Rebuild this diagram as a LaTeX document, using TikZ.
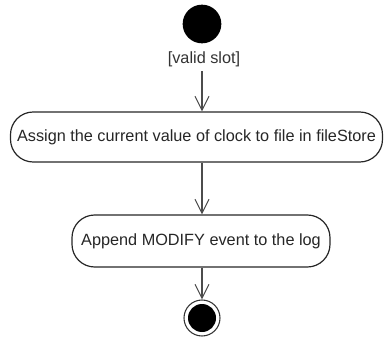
\documentclass[tikz,border=0pt]{standalone}
\usepackage{fontspec}
\setmainfont{Liberation Sans}
\usetikzlibrary{arrows.meta}
\begin{document}
\begin{tikzpicture}[x=0.75pt,y=-0.75pt,
  action/.style={draw=black!85, line width=0.9pt, rounded corners=17pt, font=\fontsize{12.2pt}{14pt}\selectfont, text=black!85, inner sep=0pt, align=center},
  flow/.style={draw=black!70, line width=0.8pt, -{Straight Barb[length=10.5pt,width=10.5pt,line width=0.8pt]}},
  lbl/.style={font=\fontsize{12.2pt}{14pt}\selectfont, text=black!80}]
\useasboundingbox (0,0) rectangle (385,345);
\node[circle, fill=black, minimum size=29pt, inner sep=0pt] (s) at (202,24) {};
\node[lbl] (g) at (204,59) {[valid slot]};
\node[action, minimum width=279pt, minimum height=37.5pt] (a1) at (196.5,137) {Assign the current value of clock to file in fileStore};
\node[action, minimum width=193.5pt, minimum height=39pt] (a2) at (201,241) {Append MODIFY event to the log};
\node[circle, draw=black!80, line width=0.8pt, minimum size=27pt, inner sep=0pt] (e) at (202,318) {};
\fill[black] (e.center) circle (10.5pt);
\draw[flow] (g.south -| s.center) -- (a1.north -| s.center);
\draw[flow] (a1.south -| s.center) -- (a2.north -| s.center);
\draw[flow] (a2.south -| s.center) -- (e.north);
\end{tikzpicture}
\end{document}
